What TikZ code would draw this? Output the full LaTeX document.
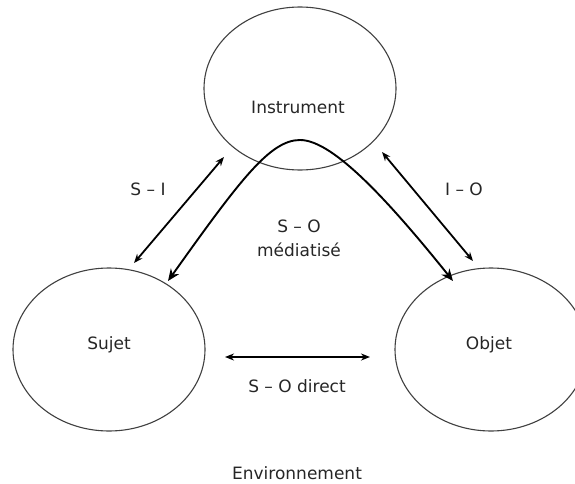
\documentclass[tikz,border=0pt]{standalone}
\usepackage{fontspec}
\setmainfont{DejaVu Sans}
\usetikzlibrary{shapes.geometric,arrows.meta}

\tikzset{
  pole/.style={draw=black!75, line width=1.1pt, ellipse, minimum width=192pt, minimum height=163pt, inner sep=0pt},
  txt/.style={font=\fontsize{17}{24}\selectfont, text=black!85},
  rel/.style={line width=1.8pt, {Stealth[length=9pt,width=7pt]}-{Stealth[length=9pt,width=7pt]}},
  med/.style={line width=1.9pt, {Stealth[length=12pt,width=10pt]}-{Stealth[length=12pt,width=10pt]}},
}

\begin{document}
\begin{tikzpicture}[x=1pt,y=-1pt]
\useasboundingbox (0,0) rectangle (575,484);

\node[pole] (instr) at (300,88.5) {};
\node[pole] (sujet) at (109,349.5) {};
\node[pole] (objet) at (491,349.5) {};

\node[txt] (instrtxt) at (298,107) {Instrument};
\node[txt] (sujettxt) at (109,345) {Sujet};
\node[txt] (objettxt) at (489,345) {Objet};

\coordinate (si-s) at (134,263);
\coordinate (si-i) at (224,157);
\coordinate (io-i) at (382,152);
\coordinate (io-o) at (473,261);
\coordinate (so-s) at (225,357);
\coordinate (so-o) at (370,357);
\coordinate (med-s) at (168,281);
\coordinate (med-top) at (300,140);
\coordinate (med-o) at (453,281);

\draw[rel] (si-s) -- (si-i);
\draw[rel] (io-i) -- (io-o);
\draw[rel] (so-s) -- (so-o);
\draw[med] (med-s) .. controls (240,180) and (270,140) .. (med-top)
  .. controls (330,140) and (380,190) .. (med-o);

\node[txt] (si-lbl) at (148,189) {S – I};
\node[txt] (io-lbl) at (464,189) {I – O};
\node[txt, align=center] (med-lbl) at (299,238) {S – O\\médiatisé};
\node[txt] (so-lbl) at (297,386) {S – O direct};
\node[txt] (env) at (297,473) {Environnement};
\end{tikzpicture}
\end{document}
